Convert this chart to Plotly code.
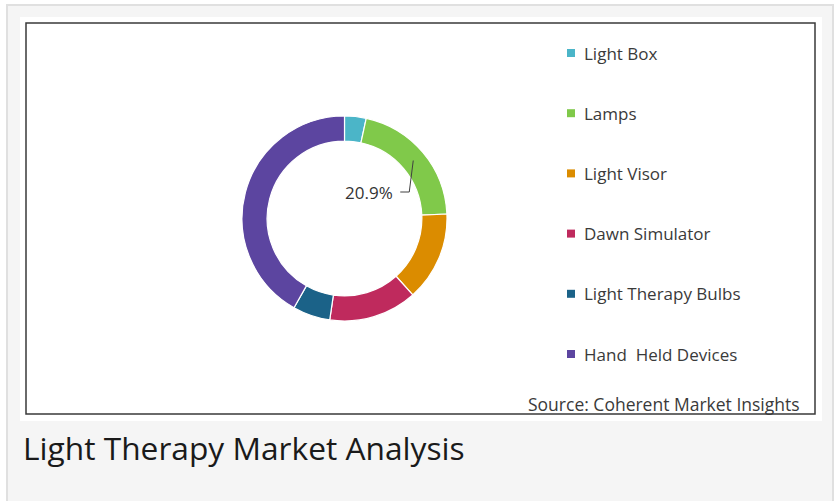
import math
import plotly.graph_objects as go

categories = ["Light Box", "Lamps", "Light Visor", "Dawn Simulator",
              "Light Therapy Bulbs", "Hand  Held Devices"]
shares = [3.4, 20.9, 14.1, 13.9, 5.9, 41.8]
colors = ["#4bb5c8", "#80c94a", "#db8c00", "#bf2a5d", "#1b6288", "#5c45a0"]
labelled = "Lamps"
title_text = "Light Therapy Market Analysis"
source_text = "Source: Coherent Market Insights"

W, H = 836, 501


def px(x):
    return x / W


def py(y):
    return 1 - y / H


# donut geometry (pixels)
cx, cy, R = 344.5, 218.5, 102.5
hole = 0.755

fig = go.Figure()
fig.add_trace(go.Pie(
    labels=categories,
    values=shares,
    marker=dict(colors=colors, line=dict(color="white", width=1.2)),
    hole=hole,
    sort=False,
    direction="clockwise",
    rotation=0,
    textinfo="none",
    showlegend=False,
    domain=dict(x=[px(cx - R), px(cx + R)], y=[py(cy + R), py(cy - R)]),
))

shapes = [
    # outer page panel
    dict(type="rect", xref="paper", yref="paper", x0=px(7), x1=px(833), y0=py(530), y1=py(5),
         fillcolor="#f5f5f5", line=dict(color="#e0e0e0", width=2), layer="below"),
    # white card
    dict(type="rect", xref="paper", yref="paper", x0=px(20), x1=px(822), y0=py(421), y1=py(17),
         fillcolor="white", line=dict(width=0), layer="below"),
    # black frame
    dict(type="rect", xref="paper", yref="paper", x0=px(26), x1=px(815), y0=py(414), y1=py(23),
         fillcolor="rgba(0,0,0,0)", line=dict(color="#3a3a3a", width=1.5), layer="below"),
]
annotations = []

# legend drawn from the category list
for i, (cat, col) in enumerate(zip(categories, colors)):
    yc = 53 + i * 60.2
    shapes.append(dict(type="rect", xref="paper", yref="paper",
                       x0=px(567), x1=px(575), y0=py(yc + 4), y1=py(yc - 4),
                       fillcolor=col, line=dict(width=0)))
    annotations.append(dict(xref="paper", yref="paper", x=px(582), y=py(yc),
                            xanchor="left", yanchor="middle", showarrow=False,
                            text=cat.replace("  ", "\u00a0 "),
                            font=dict(family="Open Sans", size=17, color="#3a3a3a")))

# leader line + value label for the labelled slice
idx = categories.index(labelled)
start = sum(shares[:idx])
mid_frac = (start + shares[idx] / 2) / sum(shares)
ang = 2 * math.pi * mid_frac
rm = R * (1 + hole) / 2
sx, sy = cx + rm * math.sin(ang), cy - rm * math.cos(ang)
ex, ey = sx - 4, 192
tx = ex - 9
shapes.append(dict(type="path", xref="paper", yref="paper",
                   path=f"M {px(sx)} {py(sy)} L {px(ex)} {py(ey)} L {px(tx)} {py(ey)}",
                   line=dict(color="#404040", width=1)))
annotations.append(dict(xref="paper", yref="paper", x=px(tx - 5), y=py(ey + 1),
                        xanchor="right", yanchor="middle", showarrow=False,
                        text=f"{shares[idx]:.1f}%",
                        font=dict(family="Open Sans", size=17, color="#333333")))

annotations.append(dict(xref="paper", yref="paper", x=px(802), y=py(404),
                        xanchor="right", yanchor="middle", showarrow=False,
                        text=source_text,
                        font=dict(family="Open Sans", size=17.5, color="#3a3a3a")))
annotations.append(dict(xref="paper", yref="paper", x=px(21), y=py(447),
                        xanchor="left", yanchor="middle", showarrow=False,
                        text=title_text,
                        font=dict(family="Open Sans", size=31.7, color="#1a1a1a")))

fig.update_layout(
    width=W, height=H,
    margin=dict(l=0, r=0, t=0, b=0),
    paper_bgcolor="white",
    plot_bgcolor="white",
    shapes=shapes,
    annotations=annotations,
)

fig.write_html("out.html",
               config={"displayModeBar": False},
               post_script="document.body.style.margin='0';document.body.style.overflow='hidden';")
